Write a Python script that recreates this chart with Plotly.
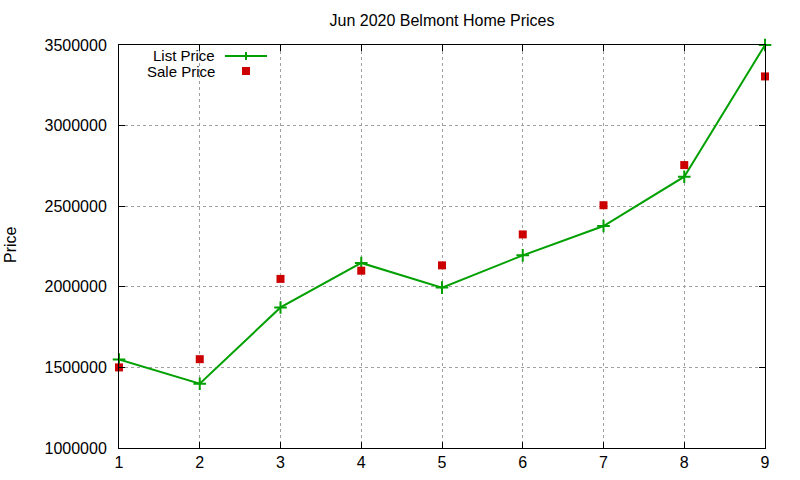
import plotly.graph_objects as go

x_vals = [1, 2, 3, 4, 5, 6, 7, 8, 9]
list_price = [1549000, 1399000, 1872000, 2148000, 1995000, 2195000, 2377000, 2683000, 3500000]
sale_price = [1500000, 1551000, 2049000, 2100000, 2133000, 2325000, 2506000, 2755000, 3305000]
y_ticks = [1000000, 1500000, 2000000, 2500000, 3000000, 3500000]
title_text = "Jun 2020 Belmont Home Prices"
series_names = ["List Price", "Sale Price"]
y_title = "Price"

GREEN = "#00a000"
RED = "#cc0000"
FONT = "Liberation Sans, Arial, sans-serif"

W, H = 800, 480
# plot area in pixels: x 119..765, y 45..448
L, T = 119, 45
R = W - 765
B = H - 448
pw, ph = W - L - R, H - T - B


def px2paper(px, py):
    return (px - L) / pw, (H - B - py) / ph


fig = go.Figure()
fig.add_trace(go.Scatter(
    x=x_vals, y=list_price, mode="lines+markers", name=series_names[0],
    line=dict(color=GREEN, width=2),
    marker=dict(symbol="cross-thin", size=9, line=dict(color=GREEN, width=2), color=GREEN),
    showlegend=False, cliponaxis=False, hoverinfo="skip",
))
fig.add_trace(go.Scatter(
    x=x_vals, y=sale_price, mode="markers", name=series_names[1],
    marker=dict(symbol="square", size=8, color=RED),
    showlegend=False, cliponaxis=False, hoverinfo="skip",
))

shapes = []
annotations = []
lx0, ly0 = px2paper(217, 55)
annotations.append(dict(x=lx0, y=ly0, xref="paper", yref="paper", text=series_names[0],
                        showarrow=False, xanchor="right", yanchor="middle",
                        font=dict(family=FONT, size=15, color="black")))
lx1, ly1 = px2paper(217, 72)
annotations.append(dict(x=lx1, y=ly1, xref="paper", yref="paper", text=series_names[1],
                        showarrow=False, xanchor="right", yanchor="middle",
                        font=dict(family=FONT, size=15, color="black")))
tx, ty = px2paper(10, 245)
annotations.append(dict(x=tx, y=ty, xref="paper", yref="paper", text=y_title, textangle=-90,
                        showarrow=False, xanchor="center", yanchor="middle",
                        font=dict(family=FONT, size=16, color="black")))
a, b = px2paper(225, 56)
c, d = px2paper(267, 56)
shapes.append(dict(type="line", xref="paper", yref="paper", x0=a, y0=b, x1=c, y1=d,
                   line=dict(color=GREEN, width=2)))
a, b = px2paper(246, 52)
c, d = px2paper(246, 60)
shapes.append(dict(type="line", xref="paper", yref="paper", x0=a, y0=b, x1=c, y1=d,
                   line=dict(color=GREEN, width=2)))
a, b = px2paper(242, 75)
c, d = px2paper(250, 67)
shapes.append(dict(type="rect", xref="paper", yref="paper", x0=a, y0=b, x1=c, y1=d,
                   fillcolor=RED, line=dict(width=0)))

fig.update_layout(
    width=W, height=H,
    margin=dict(l=L, r=R, t=T, b=B, autoexpand=False),
    paper_bgcolor="white", plot_bgcolor="white",
    font=dict(family=FONT, size=16, color="black"),
    title=dict(text=title_text, x=(L + pw / 2) / W, xanchor="center",
               y=1 - 20 / H, yanchor="middle",
               font=dict(family=FONT, size=16, color="black")),
    shapes=shapes, annotations=annotations,
    showlegend=False, hovermode=False,
)
fig.update_xaxes(
    range=[1, 9], tickmode="array", tickvals=x_vals, ticktext=[str(v) for v in x_vals],
    showline=True, linecolor="black", linewidth=1, mirror="ticks",
    ticks="inside", ticklen=6, tickcolor="black",
    showgrid=True, gridcolor="#a0a0a0", griddash="dot", gridwidth=1,
    zeroline=False, ticklabelstandoff=0, automargin=False,
)
fig.update_yaxes(
    range=[1000000, 3500000], tickmode="array", tickvals=y_ticks, ticktext=[str(v) for v in y_ticks],
    showline=True, linecolor="black", linewidth=1, mirror="ticks",
    ticks="inside", ticklen=6, tickcolor="black",
    showgrid=True, gridcolor="#a0a0a0", griddash="dot", gridwidth=1,
    zeroline=False, ticklabelstandoff=8, automargin=False,
)

fig.write_html("out.html", config={"displayModeBar": False, "staticPlot": True},
               post_script="document.body.style.margin='0';document.body.style.overflow='hidden';")
